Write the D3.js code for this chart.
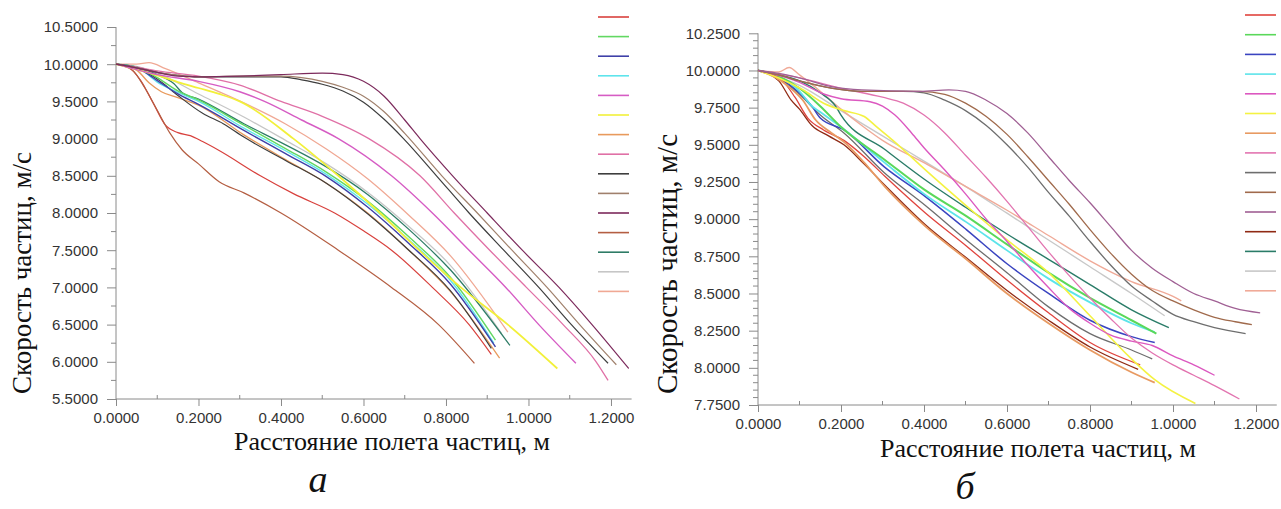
<!DOCTYPE html>
<html>
<head>
<meta charset="utf-8">
<script src="https://cdn.jsdelivr.net/npm/d3@7"></script>
<style>
	body { margin: 0; background: #fff; }
	svg { display: block; }
	.tick-label { font-family: 'Liberation Sans', Arial, sans-serif; font-size: 15px; fill: #333; }
	.title { font-family: 'Liberation Serif', 'Times New Roman', serif; font-size: 26px; fill: #111; }
	.letter { font-family: 'Liberation Serif', 'Times New Roman', serif; font-size: 38px; font-style: italic; fill: #111; }
</style>
</head>
<body>
<svg id="chart" width="1281" height="509"></svg>
<script>
// --- panel a (left) ---
var aRed = [[0,10],[0.03,9.96],[0.06,9.78],[0.09,9.48],[0.12,9.18],[0.15,9.08],[0.18,9.04],[0.21,8.96],[0.25,8.84],[0.35,8.5],[0.43,8.26],[0.53,8.0],[0.6,7.76],[0.668,7.5],[0.767,7.0],[0.856,6.5],[0.91,6.1]];
var aGreen = [[0,10],[0.05,9.96],[0.1,9.82],[0.15,9.64],[0.2,9.52],[0.31,9.18],[0.41,8.87],[0.51,8.55],[0.61,8.16],[0.71,7.68],[0.81,7.14],[0.92,6.29]];
var aBlue = [[0,10],[0.05,9.95],[0.1,9.78],[0.15,9.6],[0.2,9.46],[0.31,9.11],[0.41,8.8],[0.51,8.49],[0.61,8.08],[0.71,7.59],[0.81,7.05],[0.92,6.2]];
var aCyan = [[0,10],[0.05,9.96],[0.1,9.76],[0.15,9.62],[0.2,9.5],[0.31,9.14],[0.41,8.84],[0.51,8.52],[0.61,8.12],[0.71,7.64],[0.81,7.1],[0.916,6.25]];
var aMagenta = [[0,10],[0.1,9.86],[0.2,9.77],[0.3,9.63],[0.36,9.5],[0.45,9.25],[0.539,9.0],[0.668,8.5],[0.767,8.0],[0.856,7.5],[0.945,7.0],[1.025,6.5],[1.115,5.98]];
var aYellow = [[0,10],[0.1,9.85],[0.15,9.76],[0.2,9.68],[0.25,9.6],[0.3,9.5],[0.43,9.0],[0.539,8.5],[0.64,8.0],[0.735,7.5],[0.836,7.0],[0.95,6.5],[1.07,5.91]];
var aOrange = [[0,10],[0.05,9.92],[0.08,9.75],[0.11,9.63],[0.15,9.55],[0.2,9.45],[0.31,9.05],[0.41,8.72],[0.51,8.4],[0.61,8.0],[0.71,7.5],[0.81,6.95],[0.93,6.05]];
var aPink = [[0,10],[0.05,9.96],[0.1,9.91],[0.2,9.84],[0.3,9.72],[0.4,9.5],[0.5,9.3],[0.613,9.0],[0.737,8.5],[0.82,8.0],[0.906,7.5],[0.995,7.0],[1.084,6.5],[1.164,6.0],[1.193,5.75]];
var aDarkTop = [[0,10],[0.05,9.95],[0.1,9.89],[0.15,9.85],[0.2,9.83],[0.3,9.83],[0.4,9.83],[0.45,9.79],[0.5,9.73],[0.55,9.64],[0.6,9.49],[0.65,9.26],[0.697,9.0],[0.777,8.5],[0.856,8.0],[0.94,7.5],[1.025,7.0],[1.104,6.5],[1.193,5.98]];
var aBrownTop = [[0,10],[0.05,9.95],[0.1,9.89],[0.15,9.85],[0.2,9.83],[0.3,9.84],[0.4,9.84],[0.45,9.82],[0.5,9.77],[0.55,9.69],[0.6,9.57],[0.65,9.36],[0.7,9.07],[0.79,8.5],[0.876,8.0],[0.96,7.5],[1.045,7.0],[1.124,6.5],[1.213,5.96]];
var aPurple = [[0,10],[0.05,9.95],[0.1,9.89],[0.15,9.84],[0.2,9.83],[0.3,9.84],[0.4,9.86],[0.5,9.88],[0.55,9.86],[0.6,9.77],[0.65,9.57],[0.7,9.25],[0.737,9.0],[0.816,8.5],[0.9,8.0],[0.985,7.5],[1.074,7.0],[1.154,6.5],[1.243,5.91]];
var aBrown = [[0,10],[0.04,9.92],[0.07,9.68],[0.1,9.38],[0.13,9.08],[0.16,8.85],[0.2,8.66],[0.25,8.42],[0.31,8.27],[0.4,8.0],[0.539,7.5],[0.668,7.0],[0.782,6.5],[0.869,5.98]];
var aTeal = [[0,10],[0.05,9.96],[0.1,9.86],[0.14,9.74],[0.16,9.62],[0.2,9.53],[0.31,9.2],[0.41,8.92],[0.51,8.62],[0.61,8.25],[0.71,7.78],[0.81,7.24],[0.955,6.22]];
var aGray = [[0,10],[0.05,9.97],[0.1,9.88],[0.2,9.6],[0.31,9.29],[0.41,8.98],[0.51,8.66],[0.61,8.28],[0.71,7.82],[0.81,7.3],[0.935,6.38]];
var aSalmon = [[0,10],[0.05,10.0],[0.08,10.02],[0.12,9.94],[0.2,9.75],[0.31,9.48],[0.41,9.2],[0.51,8.86],[0.61,8.46],[0.71,7.97],[0.81,7.43],[0.95,6.4]];
var aDark = [[0,10],[0.05,9.95],[0.1,9.8],[0.15,9.58],[0.21,9.34],[0.26,9.2],[0.31,9.02],[0.41,8.71],[0.51,8.4],[0.61,7.99],[0.71,7.5],[0.81,6.96],[0.91,6.18]];

// --- panel b (right) ---
var bRed = [[0,10],[0.059,9.93],[0.089,9.82],[0.12,9.68],[0.158,9.6],[0.207,9.53],[0.256,9.42],[0.305,9.29],[0.404,9.04],[0.502,8.82],[0.6,8.59],[0.7,8.37],[0.8,8.17],[0.921,8.02]];
var bGreen = [[0,10],[0.05,9.96],[0.1,9.88],[0.15,9.76],[0.2,9.62],[0.305,9.4],[0.4,9.2],[0.502,9.02],[0.6,8.83],[0.7,8.64],[0.8,8.47],[0.9,8.32],[0.96,8.23]];
var bBlue = [[0,10],[0.05,9.95],[0.1,9.85],[0.13,9.76],[0.15,9.68],[0.207,9.6],[0.305,9.35],[0.404,9.15],[0.502,8.93],[0.6,8.7],[0.7,8.5],[0.8,8.32],[0.9,8.21],[0.956,8.17]];
var bCyan = [[0,10],[0.05,9.96],[0.1,9.86],[0.13,9.76],[0.15,9.72],[0.2,9.62],[0.305,9.38],[0.4,9.17],[0.502,8.98],[0.6,8.79],[0.7,8.6],[0.8,8.44],[0.9,8.3],[0.956,8.24]];
var bMagenta = [[0,10],[0.1,9.92],[0.16,9.84],[0.2,9.81],[0.27,9.79],[0.3,9.76],[0.33,9.7],[0.37,9.58],[0.4,9.48],[0.45,9.33],[0.5,9.17],[0.55,9.0],[0.6,8.85],[0.65,8.69],[0.7,8.54],[0.75,8.4],[0.8,8.3],[0.85,8.22],[0.9,8.18],[0.95,8.15],[1.0,8.08],[1.05,8.02],[1.1,7.95]];
var bYellow = [[0,10],[0.05,9.95],[0.108,9.87],[0.158,9.78],[0.207,9.73],[0.256,9.69],[0.286,9.62],[0.325,9.53],[0.404,9.33],[0.502,9.09],[0.6,8.86],[0.7,8.64],[0.8,8.35],[0.9,8.06],[0.956,7.92],[1.054,7.76]];
var bOrange = [[0,10],[0.05,9.94],[0.079,9.88],[0.108,9.8],[0.138,9.67],[0.177,9.58],[0.207,9.52],[0.256,9.38],[0.305,9.22],[0.404,8.95],[0.502,8.73],[0.6,8.5],[0.7,8.3],[0.8,8.12],[0.9,7.97],[0.956,7.9]];
var bPink = [[0,10],[0.1,9.95],[0.2,9.88],[0.3,9.82],[0.35,9.78],[0.4,9.7],[0.45,9.58],[0.5,9.43],[0.55,9.28],[0.6,9.12],[0.65,8.95],[0.7,8.78],[0.75,8.62],[0.8,8.47],[0.85,8.33],[0.9,8.2],[0.95,8.1],[1.0,8.02],[1.05,7.95],[1.1,7.88],[1.16,7.79]];
var bDarkTop = [[0,10],[0.05,9.97],[0.1,9.93],[0.18,9.88],[0.25,9.86],[0.35,9.86],[0.4,9.85],[0.45,9.8],[0.5,9.73],[0.55,9.63],[0.6,9.5],[0.65,9.35],[0.7,9.18],[0.75,9.02],[0.8,8.85],[0.85,8.69],[0.9,8.55],[0.95,8.45],[1.0,8.36],[1.05,8.31],[1.1,8.27],[1.175,8.23]];
var bBrownTop = [[0,10],[0.05,9.97],[0.1,9.93],[0.18,9.88],[0.25,9.86],[0.39,9.86],[0.45,9.84],[0.5,9.78],[0.55,9.69],[0.6,9.57],[0.65,9.42],[0.7,9.26],[0.75,9.1],[0.8,8.93],[0.85,8.77],[0.9,8.63],[0.95,8.52],[1.0,8.45],[1.05,8.39],[1.1,8.34],[1.15,8.31],[1.19,8.29]];
var bPurple = [[0,10],[0.05,9.98],[0.1,9.95],[0.18,9.89],[0.25,9.87],[0.39,9.86],[0.46,9.87],[0.5,9.86],[0.55,9.8],[0.6,9.71],[0.65,9.58],[0.7,9.42],[0.75,9.26],[0.8,9.11],[0.85,8.95],[0.9,8.79],[0.95,8.67],[1.0,8.58],[1.05,8.5],[1.1,8.45],[1.15,8.4],[1.21,8.37]];
var bBrown = [[0,10],[0.05,9.93],[0.08,9.8],[0.1,9.74],[0.13,9.63],[0.17,9.56],[0.207,9.5],[0.256,9.37],[0.305,9.23],[0.404,8.96],[0.502,8.74],[0.6,8.52],[0.7,8.32],[0.8,8.14],[0.916,7.99]];
var bTeal = [[0,10],[0.05,9.97],[0.1,9.93],[0.15,9.85],[0.187,9.76],[0.2,9.7],[0.305,9.47],[0.4,9.27],[0.5,9.08],[0.6,8.9],[0.7,8.73],[0.8,8.56],[0.9,8.39],[0.99,8.27]];
var bGray = [[0,10],[0.1,9.9],[0.2,9.73],[0.3,9.56],[0.4,9.39],[0.5,9.22],[0.6,9.04],[0.7,8.86],[0.8,8.68],[0.9,8.5],[0.98,8.35]];
var bSalmon = [[0,10],[0.05,9.99],[0.075,10.02],[0.1,9.97],[0.15,9.86],[0.2,9.74],[0.25,9.63],[0.3,9.53],[0.4,9.38],[0.5,9.22],[0.6,9.06],[0.7,8.89],[0.8,8.72],[0.9,8.58],[1.0,8.48],[1.02,8.45]];
var bDark = [[0,10],[0.05,9.95],[0.1,9.84],[0.15,9.7],[0.207,9.58],[0.305,9.31],[0.404,9.09],[0.502,8.86],[0.6,8.64],[0.7,8.41],[0.8,8.23],[0.9,8.12],[0.95,8.06]];

// tick values
var xTicks = [0, 0.2, 0.4, 0.6, 0.8, 1.0, 1.2];
var xMinor = [0.1, 0.3, 0.5, 0.7, 0.9, 1.1];
var aYTicks = [5.5, 6.0, 6.5, 7.0, 7.5, 8.0, 8.5, 9.0, 9.5, 10.0, 10.5];
var bYTicks = [7.75, 8.0, 8.25, 8.5, 8.75, 9.0, 9.25, 9.5, 9.75, 10.0, 10.25];

var xTitle = 'Расстояние полета частиц, м';
var yTitle = 'Скорость частиц, м/с';

// colours (legend order, 15 entries)
var aColors = [ '#d8413d', '#62d862', '#3f40a8', '#5ee4ec', '#d65cc4', '#f2f03a', '#e89a5c', '#e070a6', '#3e3e3e', '#a0806c', '#7c2a5c', '#b45e42', '#2e7c66', '#c6c6c6', '#f0a894' ];
var bColors = [ '#e0443e', '#5ad85a', '#3a44c0', '#5ce4ea', '#dc58c0', '#f4f242', '#e89a62', '#e274b0', '#6e6e6e', '#a06a4c', '#a06094', '#902a14', '#2a7c68', '#c8c8c8', '#f0aa98' ];

// which palette entry each series uses, and its stroke width
var aSeries = [
	[ aGray, 13, 1.3 ], [ aSalmon, 14, 1.3 ], [ aTeal, 12, 1.3 ], [ aOrange, 6, 1.3 ], [ aDark, 8, 1.2 ],
	[ aCyan, 3, 1.4 ], [ aGreen, 1, 1.4 ], [ aBlue, 2, 1.4 ], [ aRed, 0, 1.2 ], [ aBrown, 11, 1.2 ],
	[ aYellow, 5, 1.8 ], [ aMagenta, 4, 1.4 ], [ aPink, 7, 1.3 ],
	[ aDarkTop, 8, 1.2 ], [ aBrownTop, 9, 1.2 ], [ aPurple, 10, 1.2 ]
];
var bSeries = [
	[ bGray, 13, 1.4 ], [ bSalmon, 14, 1.4 ], [ bTeal, 12, 1.4 ], [ bDark, 8, 1.3 ],
	[ bBlue, 2, 1.5 ], [ bCyan, 3, 1.8 ], [ bGreen, 1, 2.0 ], [ bRed, 0, 1.3 ], [ bBrown, 11, 1.3 ],
	[ bOrange, 6, 1.8 ], [ bYellow, 5, 1.6 ], [ bMagenta, 4, 1.4 ], [ bPink, 7, 1.3 ],
	[ bDarkTop, 8, 1.3 ], [ bBrownTop, 9, 1.3 ], [ bPurple, 10, 1.3 ]
];

var svg = d3.select( '#chart' );
var fmt = d3.format( '.4f' );

var panels = [
	{ series: aSeries, colors: aColors, yTicks: aYTicks, yMinorStep: 0.25, yDomain: [ 5.5, 10.5 ],
		x0: 116, x1: 631.6, yTop: 27, yBot: 399, legendX: 598, legendY: 17, legendStep: 19.6,
		yTitleX: 31, yTitleSize: 27, xTitleX: 392, xTitleY: 450, letter: 'а', letterX: 318, letterY: 492 },
	{ series: bSeries, colors: bColors, yTicks: bYTicks, yMinorStep: 0.05, yDomain: [ 7.75, 10.25 ],
		x0: 758, x1: 1276.75, yTop: 33.3, yBot: 405, legendX: 1245, legendY: 15, legendStep: 19.7,
		yTitleX: 677, yTitleSize: 29, xTitleX: 1038, xTitleY: 457, letter: 'б', letterX: 965, letterY: 499 }
];

panels.forEach( function ( p ) {
	var x = d3.scaleLinear().domain( [ 0, 1.25 ] ).range( [ p.x0, p.x1 ] );
	var y = d3.scaleLinear().domain( p.yDomain ).range( [ p.yBot, p.yTop ] );
	var g = svg.append( 'g' );

	// minor y ticks
	var yMinor = d3.range( p.yDomain[0], p.yDomain[1] + 1e-9, p.yMinorStep ).filter( function ( v ) {
		return p.yTicks.every( function ( t ) { return Math.abs( t - v ) > 1e-6; } );
	} );
	g.append( 'g' ).selectAll( 'line' )
		.data( yMinor )
		.enter()
		.append( 'line' )
		.attr( 'x1', p.x0 - 5 ).attr( 'x2', p.x0 )
		.attr( 'y1', function ( d ) { return y( d ); } )
		.attr( 'y2', function ( d ) { return y( d ); } )
		.attr( 'stroke', '#8a8a8a' ).attr( 'stroke-width', 1 );

	// y axis
	var yAxis = d3.axisLeft( y ).tickValues( p.yTicks ).tickFormat( fmt ).tickSize( 9 ).tickPadding( 9 );
	var ya = g.append( 'g' ).attr( 'transform', 'translate(' + p.x0 + ',0)' ).call( yAxis );
	ya.select( '.domain' ).attr( 'stroke', '#8a8a8a' ).attr( 'd', 'M0,' + p.yTop + 'V' + p.yBot );
	ya.selectAll( '.tick line' ).attr( 'stroke', '#8a8a8a' );
	ya.selectAll( '.tick text' ).attr( 'class', 'tick-label' ).attr( 'fill', null );

	// x axis
	var xAxis = d3.axisBottom( x ).tickValues( xTicks ).tickFormat( fmt ).tickSize( 7 ).tickPadding( 6 );
	var xa = g.append( 'g' ).attr( 'transform', 'translate(0,' + p.yBot + ')' ).call( xAxis );
	xa.select( '.domain' ).attr( 'stroke', '#8a8a8a' ).attr( 'd', 'M' + p.x0 + ',0H' + p.x1 );
	xa.selectAll( '.tick line' ).attr( 'stroke', '#8a8a8a' );
	xa.selectAll( '.tick text' ).attr( 'class', 'tick-label' ).attr( 'fill', null );

	g.append( 'g' ).selectAll( 'line' )
		.data( xMinor )
		.enter()
		.append( 'line' )
		.attr( 'x1', function ( d ) { return x( d ); } )
		.attr( 'x2', function ( d ) { return x( d ); } )
		.attr( 'y1', p.yBot - 4 ).attr( 'y2', p.yBot )
		.attr( 'stroke', '#8a8a8a' ).attr( 'stroke-width', 1 );

	// curves
	var line = d3.line()
		.x( function ( d ) { return x( d[0] ); } )
		.y( function ( d ) { return y( d[1] ); } )
		.curve( d3.curveMonotoneX );

	g.append( 'g' ).selectAll( 'path' )
		.data( p.series )
		.enter()
		.append( 'path' )
		.attr( 'd', function ( d ) { return line( d[0] ); } )
		.attr( 'fill', 'none' )
		.attr( 'stroke', function ( d ) { return p.colors[d[1]]; } )
		.attr( 'stroke-width', function ( d ) { return d[2]; } );

	// legend swatches
	g.append( 'g' ).selectAll( 'line' )
		.data( p.colors )
		.enter()
		.append( 'line' )
		.attr( 'x1', p.legendX ).attr( 'x2', p.legendX + 31 )
		.attr( 'y1', function ( d, i ) { return p.legendY + i * p.legendStep; } )
		.attr( 'y2', function ( d, i ) { return p.legendY + i * p.legendStep; } )
		.attr( 'stroke', function ( d ) { return d; } )
		.attr( 'stroke-width', 1.6 );

	// titles
	g.append( 'text' )
		.attr( 'class', 'title' )
		.attr( 'transform', 'translate(' + p.yTitleX + ',394) rotate(-90)' )
		.attr( 'text-anchor', 'start' )
		.style( 'font-size', p.yTitleSize + 'px' )
		.text( yTitle );
	g.append( 'text' )
		.attr( 'class', 'title' )
		.attr( 'x', p.xTitleX ).attr( 'y', p.xTitleY )
		.attr( 'text-anchor', 'middle' )
		.text( xTitle );
	g.append( 'text' )
		.attr( 'class', 'letter' )
		.attr( 'x', p.letterX ).attr( 'y', p.letterY )
		.attr( 'text-anchor', 'middle' )
		.text( p.letter );
} );
</script>
</body>
</html>
